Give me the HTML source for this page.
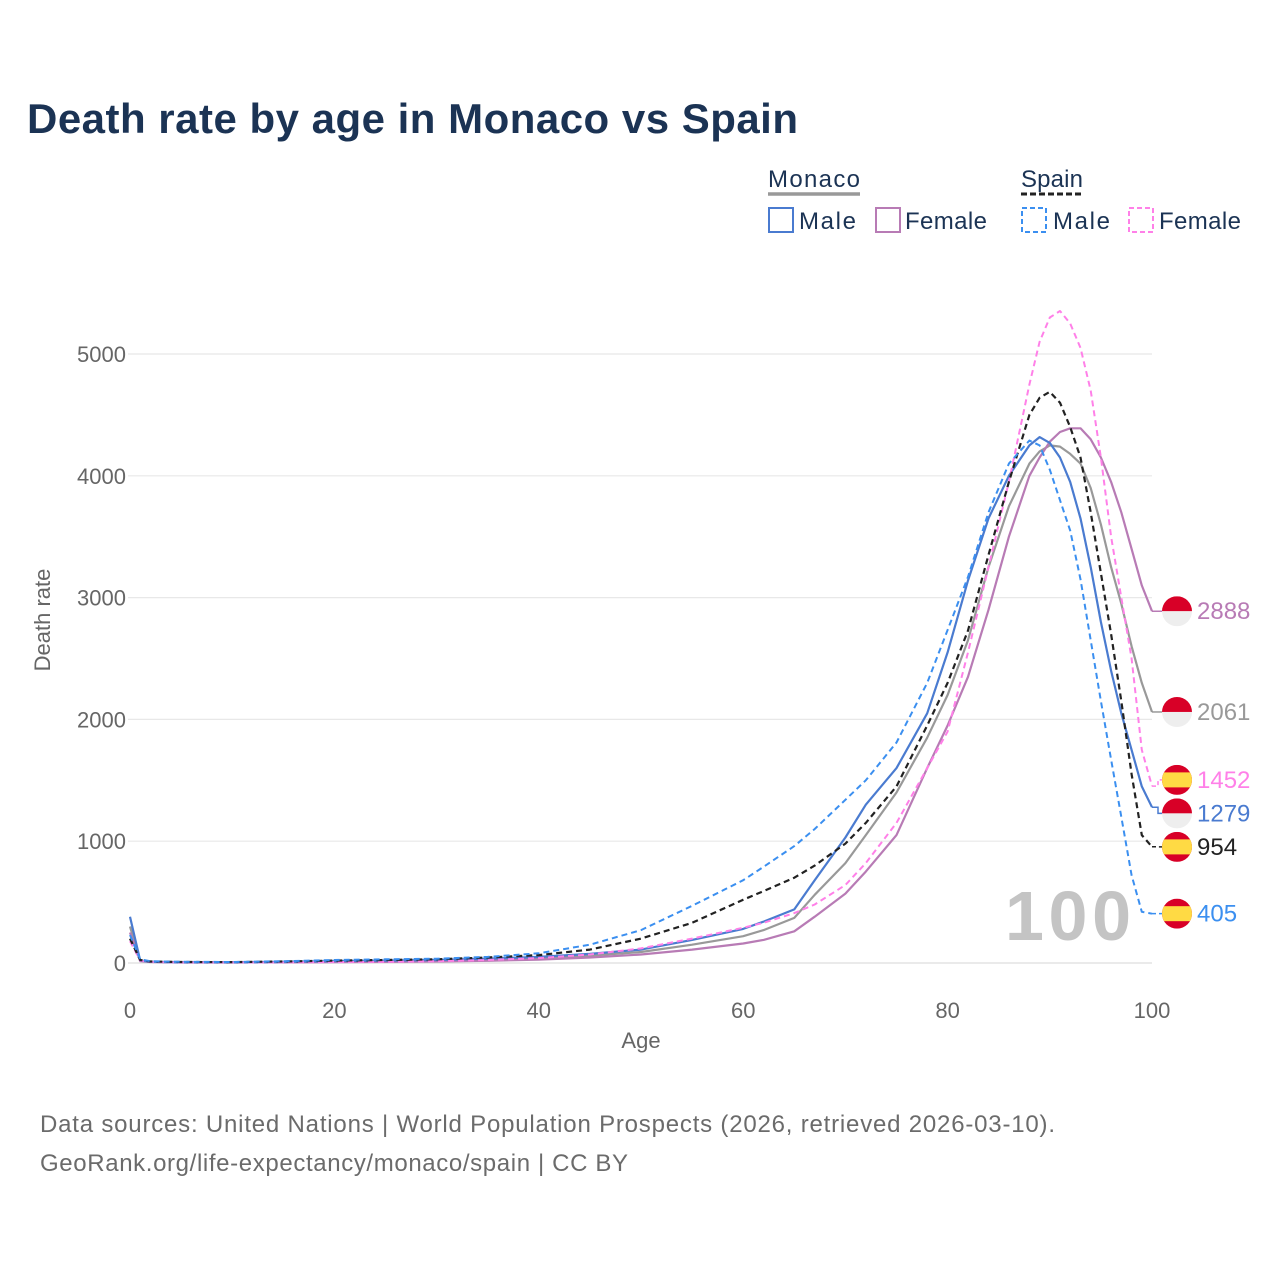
<!DOCTYPE html>
<html><head><meta charset="utf-8">
<style>
html,body{margin:0;padding:0;background:#fff;}
svg{display:block;font-family:"Liberation Sans",sans-serif;}
</style></head>
<body>
<svg id="chart" width="1280" height="1280" viewBox="0 0 1280 1280">
  <text x="27" y="133" font-size="42" font-weight="bold" fill="#1b3354" textLength="771">Death rate by age in Monaco vs Spain</text>
  <g>
    <text x="768" y="187" font-size="24" fill="#1b3354" textLength="92">Monaco</text>
    <line x1="768" y1="194" x2="860" y2="194" stroke="#999" stroke-width="3.5"/>
    <text x="1021" y="187" font-size="24" fill="#1b3354" textLength="62">Spain</text>
    <line x1="1021" y1="194" x2="1083" y2="194" stroke="#222" stroke-width="3" stroke-dasharray="6,3"/>
    <g><rect x="769" y="208" width="24" height="24" fill="none" stroke="#4a7bd0" stroke-width="2"/><text x="799" y="229" font-size="24" fill="#1b3354" textLength="57">Male</text></g>
    <g><rect x="876" y="208" width="24" height="24" fill="none" stroke="#b87bb5" stroke-width="2"/><text x="905" y="229" font-size="24" fill="#1b3354" textLength="82">Female</text></g>
    <g><rect x="1022" y="208" width="24" height="24" fill="none" stroke="#3b8ff0" stroke-width="2" stroke-dasharray="5,3"/><text x="1053" y="229" font-size="24" fill="#1b3354" textLength="57">Male</text></g>
    <g><rect x="1129" y="208" width="24" height="24" fill="none" stroke="#ff80e8" stroke-width="2" stroke-dasharray="5,3"/><text x="1159" y="229" font-size="24" fill="#1b3354" textLength="82">Female</text></g>
  </g>
  <g id="grid"></g>
  <g id="axes"></g>
  <text x="1005" y="940" font-size="70" font-weight="bold" fill="#c4c4c4" textLength="126">100</text>
  <g id="series"></g>
  <g id="ends"></g>
  <text x="40" y="1132" font-size="24" fill="#6b6b6b" textLength="1015">Data sources: United Nations | World Population Prospects (2026, retrieved 2026-03-10).</text>
  <text x="40" y="1171" font-size="24" fill="#6b6b6b" textLength="588">GeoRank.org/life-expectancy/monaco/spain | CC BY</text>
</svg>
<script>
const ages = [0,1,2,5,10,15,20,25,30,35,40,45,50,55,60,62,65,67,70,72,75,78,80,82,84,86,88,89,90,91,92,93,94,95,96,97,98,99,100];
const monacoMale   = [380,20,10,5,5,8,15,20,25,35,50,75,110,190,280,340,440,680,1030,1300,1600,2050,2550,3140,3650,4000,4250,4318,4270,4150,3950,3650,3250,2800,2400,2050,1750,1450,1279];
const monacoFemale = [250,15,8,4,4,5,7,9,12,18,28,45,70,110,160,190,260,380,570,750,1050,1600,1950,2350,2900,3500,4000,4150,4280,4360,4390,4390,4300,4150,3950,3700,3400,3100,2888];
const monacoTotal  = [300,20,10,5,5,8,12,15,20,28,40,60,90,150,220,270,370,560,820,1050,1400,1850,2200,2650,3250,3750,4100,4200,4250,4240,4180,4100,3900,3600,3250,2950,2600,2300,2061];
const spainMale    = [230,30,15,10,8,15,25,30,35,50,80,150,270,470,680,790,960,1100,1340,1500,1810,2300,2734,3170,3700,4100,4290,4250,4050,3800,3550,3150,2650,2150,1670,1200,720,420,405];
const spainFemale  = [180,20,10,5,5,6,8,10,15,25,40,70,120,200,290,330,410,480,640,820,1150,1600,1900,2550,3250,3950,4750,5100,5300,5353,5250,5050,4700,4150,3500,3000,2500,1750,1452];
const spainTotal   = [200,25,12,8,7,12,20,25,30,45,65,110,200,330,520,590,700,800,980,1150,1450,1950,2300,2730,3350,3950,4500,4640,4690,4600,4400,4150,3700,3200,2700,2150,1550,1050,954];
const yTicks = [0,1000,2000,3000,4000,5000];
const xTicks = [0,20,40,60,80,100];

const NS="http://www.w3.org/2000/svg";
const X0=130,X1=1152,Y0=963,Y5=354;
const xs=a=>X0+(X1-X0)*a/100;
const ys=v=>Y0-(Y0-Y5)*v/5000;
function mk(t,at,parent){const e=document.createElementNS(NS,t);for(const k in at)e.setAttribute(k,at[k]);parent.appendChild(e);return e;}
const grid=document.getElementById('grid'),axes=document.getElementById('axes');
yTicks.forEach(v=>{
  const l=mk('line',{x1:X0-2,x2:X1,y1:ys(v),y2:ys(v),stroke:v===0?'#ddd':'#e8e8e8','stroke-width':1.2},grid);
  
  
  const t=mk('text',{x:126,y:ys(v)+8,'font-size':22,fill:'#666','text-anchor':'end'},axes);
  t.textContent=v;
  
  
});
xTicks.forEach(a=>{
  const t=mk('text',{x:xs(a),y:1018,'font-size':22,fill:'#666','text-anchor':'middle'},axes);
  t.textContent=a;
  
  
});
let t=mk('text',{x:641,y:1048,'font-size':22,fill:'#666','text-anchor':'middle'},axes);
t.textContent='Age';


t=mk('text',{x:0,y:0,'font-size':22,fill:'#666','text-anchor':'middle',transform:'translate(50,620) rotate(-90)'},axes);
t.textContent='Death rate';



function linePath(vals){
  return ages.map((a,i)=>(i?'L':'M')+xs(a).toFixed(1)+','+ys(vals[i]).toFixed(1)).join(' ');
}
const series=[
  {name:'monaco-total',vals:monacoTotal,color:'#999',dash:'',w:2.2,flag:'mc',lab:'#999'},
  {name:'monaco-female',vals:monacoFemale,color:'#b87bb5',dash:'',w:2.2,flag:'mc',lab:'#b87bb5'},
  {name:'monaco-male',vals:monacoMale,color:'#4a7bd0',dash:'',w:2.2,flag:'mc',lab:'#4a7bd0'},
  {name:'spain-female',vals:spainFemale,color:'#ff80e8',dash:'6,4',w:2,flag:'es',lab:'#ff80e8'},
  {name:'spain-total',vals:spainTotal,color:'#222',dash:'6,4',w:2.2,flag:'es',lab:'#222'},
  {name:'spain-male',vals:spainMale,color:'#3b8ff0',dash:'6,4',w:2,flag:'es',lab:'#3b8ff0'}
];
const sg=document.getElementById('series'),eg=document.getElementById('ends');
series.forEach(s=>{
  const p=mk('path',{d:linePath(s.vals),fill:'none',stroke:s.color,'stroke-width':s.w,'stroke-dasharray':s.dash,'stroke-linejoin':'round'},sg);
  
  
});
const GAP=33.5;
const ends=series.map(s=>({s,v:s.vals[s.vals.length-1],y0:ys(s.vals[s.vals.length-1])})).sort((a,b)=>a.y0-b.y0);
let clusters=ends.map(e=>({items:[e],mean:e.y0}));
let merged=true;
while(merged){
  merged=false;
  for(let i=0;i<clusters.length-1;i++){
    const a=clusters[i],b=clusters[i+1];
    const aEnd=a.mean+(a.items.length-1)*GAP/2, bStart=b.mean-(b.items.length-1)*GAP/2;
    if(bStart-aEnd<GAP){
      const items=a.items.concat(b.items);
      clusters.splice(i,2,{items,mean:items.reduce((s,e)=>s+e.y0,0)/items.length});
      merged=true;break;
    }
  }
}
clusters.forEach(c=>c.items.forEach((e,k)=>{e.y=c.mean+(k-(c.items.length-1)/2)*GAP;}));
ends.forEach((e,i)=>{
  const s=e.s,yv=e.y0;
  const c=mk('path',{d:`M${X1},${yv} L${X1+6},${yv} L${X1+6},${e.y} L${X1+10},${e.y}`,fill:'none',stroke:s.color,'stroke-width':1.5,'stroke-dasharray':s.dash?'4,3':''},eg);
  
  
  const g=mk('g',{},eg);
  
  
  const cx=1177,cy=e.y,r=15;
  const id='clip'+i;
  const cp=mk('clipPath',{id},g);mk('circle',{cx,cy,r},cp);
  if(s.flag==='mc'){
    mk('rect',{x:cx-r,y:cy-r,width:2*r,height:r,fill:'#d80027','clip-path':`url(#${id})`},g);
    mk('rect',{x:cx-r,y:cy,width:2*r,height:r,fill:'#eeeeee','clip-path':`url(#${id})`},g);
  }else{
    mk('rect',{x:cx-r,y:cy-r,width:2*r,height:2*r,fill:'#d80027','clip-path':`url(#${id})`},g);
    mk('rect',{x:cx-r,y:cy-r/2,width:2*r,height:r,fill:'#ffda44','clip-path':`url(#${id})`},g);
  }
  const tx=mk('text',{x:1197,y:e.y+8,'font-size':24,fill:s.lab},eg);
  tx.textContent=String(e.v);
  
  
});
</script>
</body></html>
